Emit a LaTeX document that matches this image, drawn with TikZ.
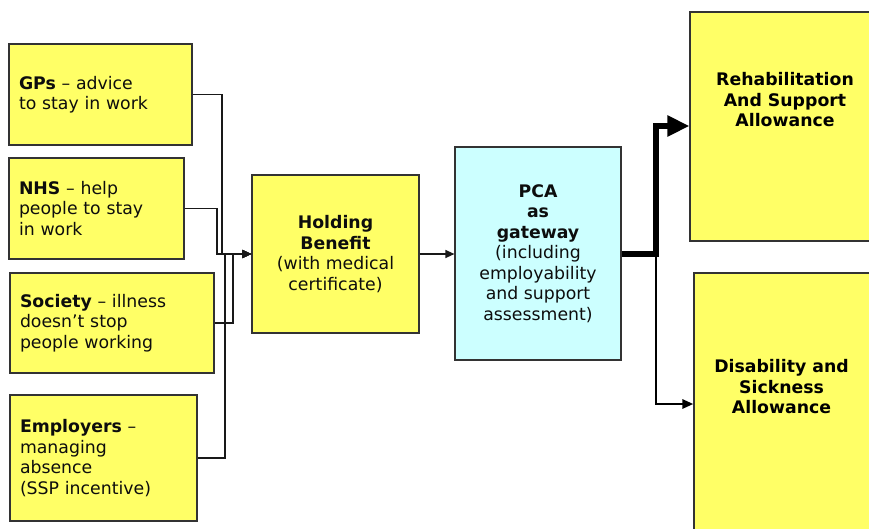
\documentclass[tikz,border=0pt]{standalone}
\usepackage{fontspec}
\setmainfont{DejaVu Sans}
\usetikzlibrary{arrows.meta}
\definecolor{boxyellow}{HTML}{FFFF66}
\definecolor{boxcyan}{HTML}{CCFFFF}
\definecolor{edgegray}{HTML}{333333}
\tikzset{
  basebox/.style={draw=edgegray, line width=1.2pt, inner xsep=10pt, inner ysep=0pt,
    font=\fontsize{17.3}{20.5}\selectfont, text=black!95},
  ybox/.style={basebox, fill=boxyellow},
  cbox/.style={basebox, fill=boxcyan},
  leftbox/.style={ybox, align=left},
  midtext/.style={font=\fontsize{17.3}{20.5}\selectfont, align=center, inner sep=0pt},
  thin conn/.style={draw=black!90, line width=1.3pt, -{Triangle[length=9pt,width=8pt]}},
  thick conn/.style={draw=black, line width=6.5pt, -{Triangle[length=22pt,width=20pt]}},
  mid conn/.style={draw=black, line width=2.6pt, -{Triangle[length=11pt,width=9pt]}},
}
\begin{document}
\begin{tikzpicture}[x=1pt,y=-1pt]
\useasboundingbox (0,0) rectangle (869,528);
\clip (0,0) rectangle (869,528);

% left boxes
\node[leftbox, minimum width=183, minimum height=101, text width=163] (gps) at (100.5,94.5)
  {\textbf{GPs} – advice\\to stay in work};
\node[leftbox, minimum width=175, minimum height=101, text width=155] (nhs) at (96.5,208.5)
  {\textbf{NHS} – help\\people to stay\\in work};
\node[leftbox, minimum width=204, minimum height=100, text width=184] (soc) at (112,323)
  {\textbf{Society} – illness\\doesn’t stop\\people working};
\node[leftbox, minimum width=187, minimum height=126, text width=167] (emp) at (103.5,458)
  {\textbf{Employers} –\\managing\\absence\\(SSP incentive)};

% middle boxes
\node[ybox, align=center, minimum width=167, minimum height=158] (hold) at (335.5,254)
  {\textbf{Holding}\\\textbf{Benefit}\\(with medical\\certificate)};
\node[cbox, align=center, minimum width=166, minimum height=213] (pca) at (538,253.5)
  {\textbf{PCA}\\\textbf{as}\\\textbf{gateway}\\(including\\employability\\and support\\assessment)};

% right boxes (cut off by the page edge)
\node[ybox, minimum width=200, minimum height=229] (ras) at (790,126.5) {};
\node[midtext] (rastext) at (785,100)
  {\textbf{Rehabilitation}\\\textbf{And Support}\\\textbf{Allowance}};
\node[ybox, minimum width=200, minimum height=300] (dsa) at (794,423) {};
\node[midtext] (dsatext) at (781.5,387)
  {\textbf{Disability and}\\\textbf{Sickness}\\\textbf{Allowance}};

% connectors into Holding Benefit
\draw[thin conn] (gps.east) -- (222,94.5) |- (hold.west);
\draw[thin conn] (nhs.east) -- (217,208.5) |- (hold.west);
\draw[thin conn] (soc.east) -- (233,323) |- (hold.west);
\draw[thin conn] (emp.east) -- (225,458) |- (hold.west);

% Holding -> PCA
\draw[thin conn] (hold.east) -- (pca.west |- hold.east);

% PCA -> outcomes
\coordinate (split) at (656,254);
\draw[mid conn] (split) |- (dsa.west |- 0,404);
\draw[thick conn] (pca.east |- split) -- (split) |- (ras.west |- 0,126);
\end{tikzpicture}
\end{document}
